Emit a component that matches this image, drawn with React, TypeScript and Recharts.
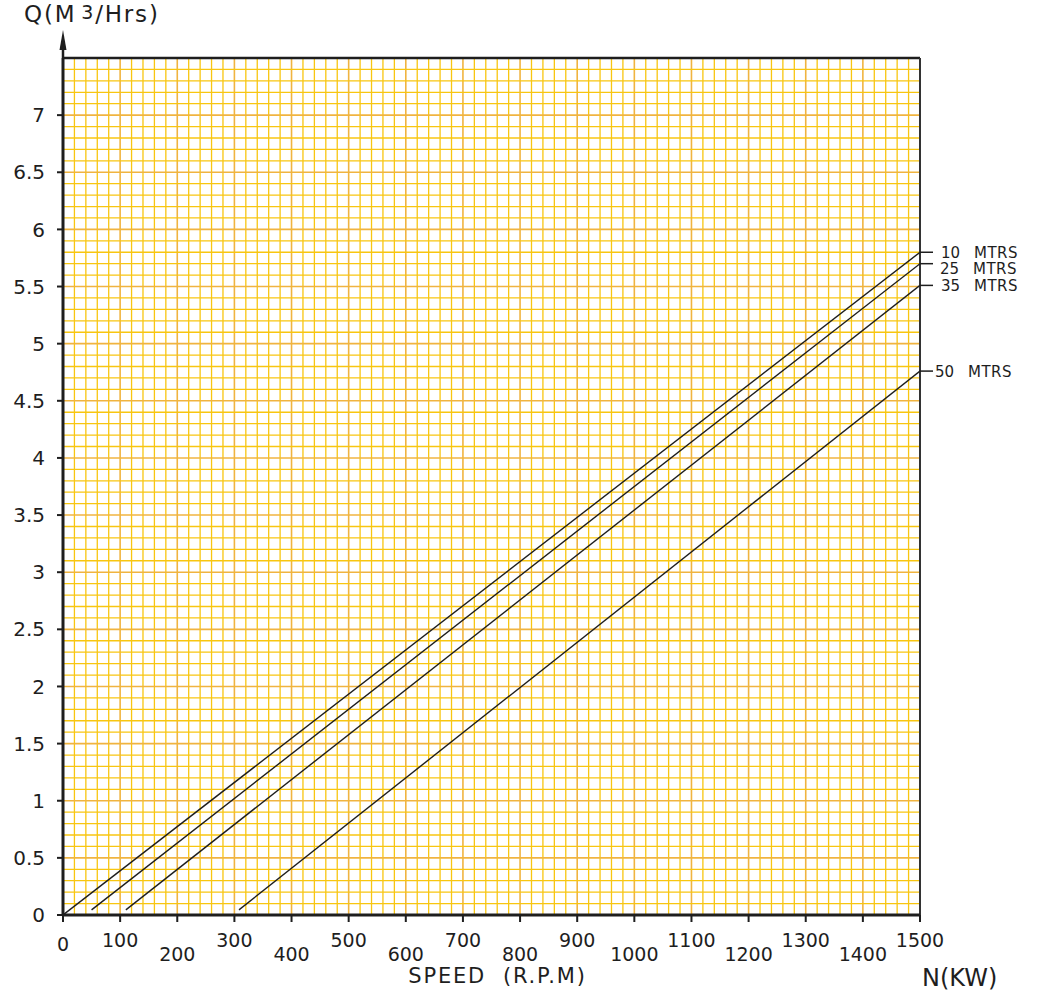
import React from 'react';
import { LineChart, Line, XAxis, YAxis, ReferenceLine } from 'recharts';

const FONT = '"DejaVu Sans", sans-serif';
const INK = '#1e1e1e';

// curve names + end points
const SERIES_NAMES = ['10', '25', '35', '50'];
const START_RPM = [0, 50, 110, 308];
const START_Q = [0, 0.045, 0.045, 0.045];
const END_RPM = [1500, 1500, 1500, 1500];
const END_Q = [5.8, 5.7, 5.51, 4.76];

const X_TICKS = [0, 100, 200, 300, 400, 500, 600, 700, 800, 900, 1000, 1100, 1200, 1300, 1400, 1500];
const Y_TICKS = [0, 0.5, 1, 1.5, 2, 2.5, 3, 3.5, 4, 4.5, 5, 5.5, 6, 6.5, 7];

// graph paper: a line every 20 rpm and every 0.1 m3/h
const GRID_X = Array.from({ length: 74 }, (_, i) => (i + 1) * 20);
const GRID_Y = Array.from({ length: 74 }, (_, i) => i + 1);

const MINOR = '#f8c610';
const MAJOR = '#f0b440';

// little nudges so the end labels don't collide
const LABEL_DY = [0, 5, 0, 0];
const LABEL_DX = [21, 20, 21, 15];

const series = SERIES_NAMES.map((name, i) => ({
  name,
  data: [
    { rpm: START_RPM[i], q: START_Q[i] },
    { rpm: END_RPM[i], q: END_Q[i] },
  ],
}));

const txt = { fontFamily: FONT, fill: INK };

const EndLabel = (props: any) => {
  const { index, seriesIdx } = props;
  if (index !== 1) return null;
  const x = props.x ?? props.viewBox?.x;
  const y = props.y ?? props.viewBox?.y;
  const dx = LABEL_DX[seriesIdx];
  const ty = y + LABEL_DY[seriesIdx] + 5.5;
  return (
    <g>
      <line x1={x} y1={y} x2={x + 13} y2={y} stroke={INK} strokeWidth={1.5} />
      <text x={x + dx} y={ty} fontSize={15} style={txt}>
        {SERIES_NAMES[seriesIdx]}
      </text>
      <text x={x + dx + 33} y={ty} fontSize={15} style={txt} letterSpacing={0.5}>
        MTRS
      </text>
    </g>
  );
};

const XTick = (props: any) => {
  const { x, y, payload } = props;
  const v = payload.value;
  let dy = 25;
  if (v === 0) dy = 29;
  else if (v % 200 === 0) dy = 39;
  return (
    <text x={x} y={y + dy} textAnchor="middle" fontSize={19} style={txt}>
      {v}
    </text>
  );
};

const YTitle = (props: any) => {
  const vb = props.viewBox || { x: 0, y: 58, width: 63 };
  const ax = vb.x + vb.width;
  const top = vb.y;
  return (
    <g>
      <line x1={ax} y1={top} x2={ax} y2={top - 12} stroke={INK} strokeWidth={2.5} />
      <polygon points={`${ax},${top - 28} ${ax - 3.5},${top - 8} ${ax + 3.5},${top - 8}`} fill={INK} />
      <text x={24} y={top - 36} fontSize={23} style={txt} letterSpacing={1.8}>
        Q(M
        <tspan dx={5} dy={-3} fontSize={19}>3</tspan>
        <tspan dy={3}>/Hrs)</tspan>
      </text>
    </g>
  );
};

const XTitles = (props: any) => {
  const vb = props.viewBox || { x: 63, y: 915, width: 857 };
  return (
    <g>
      <text
        x={vb.x + vb.width / 2 + 6}
        y={vb.y + 68}
        textAnchor="middle"
        fontSize={21}
        letterSpacing={1.8}
        style={{ ...txt, whiteSpace: 'pre' }}
      >
        {'SPEED  (R.P.M)'}
      </text>
      <text x={vb.x + vb.width + 2} y={vb.y + 71} fontSize={24} style={txt}>
        N(KW)
      </text>
    </g>
  );
};

export default function App() {
  return (
    <div style={{ position: 'absolute', left: 0, top: 0, background: '#fff' }}>
      <LineChart width={1037} height={995} margin={{ top: 58, right: 117, bottom: 0, left: 0 }}>
        <XAxis
          type="number"
          dataKey="rpm"
          domain={[0, 1500]}
          ticks={X_TICKS}
          interval={0}
          height={80}
          tickSize={7}
          tickMargin={0}
          tick={<XTick />}
          axisLine={{ stroke: INK, strokeWidth: 3 }}
          tickLine={{ stroke: INK, strokeWidth: 2 }}
          allowDataOverflow
          label={{ content: <XTitles /> }}
        />
        <YAxis
          type="number"
          dataKey="q"
          domain={[0, 7.5]}
          ticks={Y_TICKS}
          interval={0}
          width={63}
          tickSize={6}
          tickMargin={12}
          tick={{ fontSize: 20, fontFamily: FONT, fill: INK }}
          axisLine={{ stroke: INK, strokeWidth: 3 }}
          tickLine={{ stroke: INK, strokeWidth: 2 }}
          allowDataOverflow
          label={{ content: <YTitle /> }}
        />
        {GRID_X.map((v) => (
          <ReferenceLine
            key={'gx' + v}
            x={v}
            stroke={v % 100 === 0 ? MAJOR : MINOR}
            strokeWidth={v % 100 === 0 ? 1.6 : 1.3}
            zIndex={-50}
          />
        ))}
        {GRID_Y.map((t) => (
          <ReferenceLine
            key={'gy' + t}
            y={t / 10}
            stroke={t % 5 === 0 ? MAJOR : MINOR}
            strokeWidth={t % 5 === 0 ? 1.6 : 1.3}
            zIndex={-50}
          />
        ))}
        <ReferenceLine y={7.5} stroke={INK} strokeWidth={2.5} zIndex={-40} />
        <ReferenceLine x={1500} stroke="#333" strokeWidth={2} zIndex={-40} />
        {series.map((s, i) => (
          <Line
            key={s.name}
            data={s.data}
            dataKey="q"
            type="linear"
            stroke={INK}
            strokeWidth={1.4}
            dot={false}
            activeDot={false}
            isAnimationActive={false}
            label={<EndLabel seriesIdx={i} />}
          />
        ))}
      </LineChart>
    </div>
  );
}
